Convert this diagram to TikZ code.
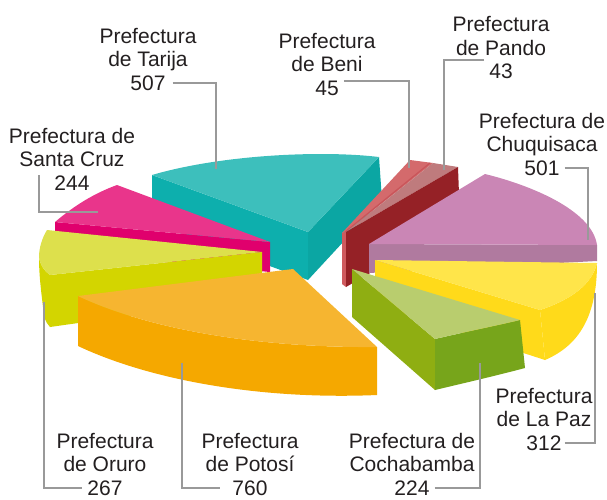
\documentclass[tikz,border=0pt]{standalone}
\usepackage{fontspec}
\setmainfont{Liberation Sans}
\definecolor{txt}{HTML}{231F20}
\definecolor{lead}{HTML}{999999}
\definecolor{tealTop}{HTML}{3DBFBC}
\definecolor{tealL}{HTML}{0DAFAD}
\definecolor{tealR}{HTML}{0BA6A3}
\definecolor{pinkTop}{HTML}{E9358B}
\definecolor{pinkF}{HTML}{E0006D}
\definecolor{lgTop}{HTML}{DDE04C}
\definecolor{lgSide}{HTML}{D3D500}
\definecolor{orTop}{HTML}{F6B530}
\definecolor{orF}{HTML}{F5A800}
\definecolor{beniTop}{HTML}{D46A6C}
\definecolor{beniSide}{HTML}{CF5A5E}
\definecolor{beniLine}{HTML}{C9555A}
\definecolor{pandoTop}{HTML}{BF7B7D}
\definecolor{pandoF}{HTML}{952126}
\definecolor{purTop}{HTML}{CA86B5}
\definecolor{purF}{HTML}{B07A9F}
\definecolor{yelTop}{HTML}{FFE54A}
\definecolor{yelSide}{HTML}{FFDA1A}
\definecolor{grTop}{HTML}{B9CD6E}
\definecolor{grL}{HTML}{8FAE12}
\definecolor{grR}{HTML}{77A51B}
\newcommand\prefLabel[6]{%
  \node[lbl] (#1a) at (#2,#3) {#4};
  \node[lbl] (#1b) at (#2,#3+23.7) {#5};
  \node[lbl] (#1c) at (#2,#3+47.4) {#6};}
\begin{document}
\begin{tikzpicture}[x=1pt,y=-1pt,
  lbl/.style={anchor=base,inner sep=0pt,text=txt,font=\fontsize{21}{24}\selectfont},
  leader/.style={draw=lead,line width=2.4pt}]
\useasboundingbox (0,0) rectangle (607,499);
% ---------- Tarija (teal)
\fill[tealL] (152,175) -- (308,232) -- (308,280) -- (152,223) -- cycle;
\fill[tealR] (308,232) -- (379,157) -- (382,200) -- (308,280) -- cycle;
\fill[tealTop] (152,175) .. controls (220,155) and (320,150) .. (379,157) -- (308,232) -- cycle;
% ---------- Santa Cruz (pink)
\fill[pinkF] (55,222) -- (270,242) -- (270,272) -- (55,252) -- cycle;
\fill[pinkTop] (55,222) .. controls (75,205) and (95,193) .. (117,185) -- (270,242) -- cycle;
% ---------- Oruro (yellow-green)
\fill[lgSide] (39,257) .. controls (40,265) and (45,272) .. (50,275) -- (50,327)
  .. controls (45,322) and (43,315) .. (43,307) .. controls (41,290) and (39,275) .. (39,257) -- cycle;
\fill[lgSide] (50,275) -- (262,252) -- (262,297) -- (50,327) -- cycle;
\fill[lgTop] (47,230) .. controls (42,238) and (39,248) .. (39,257)
  .. controls (40,265) and (45,272) .. (50,275) -- (262,252) -- cycle;
% ---------- Potosi (orange)
\fill[orF] (78,296) .. controls (150,330) and (260,348) .. (377,347) -- (377,395)
  .. controls (260,400) and (150,380) .. (78,346) -- cycle;
\fill[orTop] (78,296) -- (293,269) -- (377,347) .. controls (260,348) and (150,330) .. (78,296) -- cycle;
% ---------- Beni / Pando (reds)
\fill[beniSide] (342,233) -- (346,232) -- (346,287) -- (342,284) -- cycle;
\fill[beniTop] (342,233) -- (410,160) -- (433,163) -- (346,232) -- cycle;
\draw[beniLine,line width=1.2pt] (430,163) -- (345,232);
\fill[pandoTop] (346,232) -- (433,163) -- (458,167) -- cycle;
\fill[pandoF] (346,232) -- (458,167) -- (460,221) -- (346,287) -- cycle;
% ---------- Chuquisaca (purple)
\fill[purF] (369,244) -- (597,245) -- (597,261) -- (369,273) -- cycle;
\fill[purTop] (369,244) -- (485,174) .. controls (530,185) and (592,210) .. (597,245) -- cycle;
% ---------- La Paz (yellow)
\fill[yelSide] (375,260) -- (540,310) -- (545,360) -- (375,305) -- cycle;
\fill[yelSide] (597,263) .. controls (592,285) and (570,300) .. (540,310) -- (545,360)
  .. controls (580,345) and (597,315) .. (597,263) -- cycle;
\fill[yelTop] (375,260) -- (597,263) .. controls (592,285) and (570,300) .. (540,310) -- cycle;
% ---------- Cochabamba (green)
\fill[grL] (352,269) -- (435,339) -- (435,390) -- (352,317) -- cycle;
\fill[grR] (435,339) .. controls (460,333) and (495,326) .. (520,320) -- (525,368)
  .. controls (495,376) and (460,384) .. (435,390) -- cycle;
\fill[grTop] (352,269) -- (520,320) .. controls (495,326) and (460,333) .. (435,339) -- cycle;
% ---------- labels
\prefLabel{tar}{148}{43}{Prefectura}{de Tarija}{507}
\prefLabel{sc}{72}{143}{Prefectura de}{Santa Cruz}{244}
\prefLabel{ben}{327}{48}{Prefectura}{de Beni}{45}
\prefLabel{pnd}{501}{31.5}{Prefectura}{de Pando}{43}
\prefLabel{chu}{542}{128}{Prefectura de}{Chuquisaca}{501}
\prefLabel{lpz}{544}{403}{Prefectura}{de La Paz}{312}
\prefLabel{coc}{412}{448}{Prefectura de}{Cochabamba}{224}
\prefLabel{pot}{250}{448}{Prefectura}{de Potosí}{760}
\prefLabel{oru}{105}{448}{Prefectura}{de Oruro}{267}
% ---------- leader end points
\coordinate (tarP) at (216,169);
\coordinate (scS) at (39,175);
\coordinate (scP) at (98,212);
\coordinate (benP) at (409,168);
\coordinate (pndS) at (484,60);
\coordinate (pndP) at (444,170);
\coordinate (chuP) at (588,240);
\coordinate (lpzP) at (595,293);
\coordinate (cocP) at (480,363);
\coordinate (potP) at (182,363);
\coordinate (oruP) at (44,302);
% ---------- leaders
\draw[leader] ([xshift=7pt]tarc.east) -| (tarP);
\draw[leader] (scS) |- (scP);
\draw[leader] ([xshift=5pt]benc.north east) -| (benP);
\draw[leader] (pndS) -| (pndP);
\draw[leader] ([xshift=5pt]chuc.east) -| (chuP);
\draw[leader] ([xshift=3pt]lpzc.east) -| (lpzP);
\draw[leader] ([xshift=5pt]cocc.east) -| (cocP);
\draw[leader] (potP) |- ([xshift=-12pt]potc.west);
\draw[leader] (oruP) |- ([xshift=-5pt]oruc.west);
\end{tikzpicture}
\end{document}
